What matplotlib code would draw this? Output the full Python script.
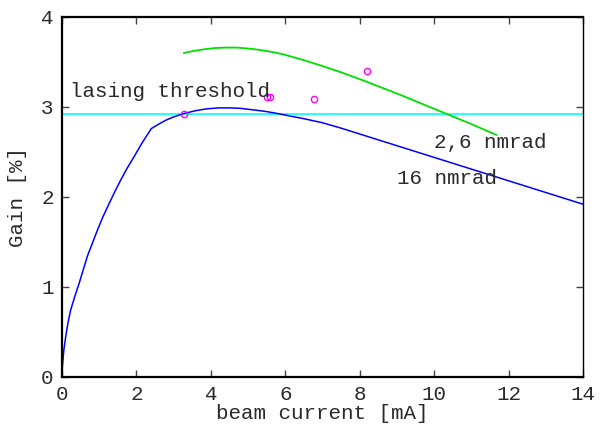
import matplotlib
matplotlib.use('Agg')
import matplotlib.pyplot as plt

plt.rcParams['font.family'] = ['Liberation Mono', 'DejaVu Sans Mono']

# 16 nmrad gain curve (blue)
x_16 = [0, 0.005, 0.02, 0.05, 0.1, 0.16, 0.23, 0.34, 0.46, 0.57, 0.68, 0.82,
        0.95, 1.1, 1.27, 1.42, 1.58, 1.75, 1.94, 2.15, 2.40,
        2.6, 2.8, 3.0, 3.3, 3.6, 3.9, 4.2, 4.5, 4.8, 5.1, 5.4, 5.7, 6.0,
        6.5, 7.0, 7.5, 8, 9, 10, 11, 12, 13, 14]
y_16 = [0, 0.08, 0.16, 0.30, 0.45, 0.60, 0.74, 0.89, 1.04, 1.19, 1.34, 1.49,
        1.63, 1.78, 1.93, 2.06, 2.19, 2.32, 2.45, 2.60, 2.76,
        2.81, 2.855, 2.89, 2.93, 2.96, 2.98, 2.99, 2.99, 2.985, 2.97, 2.955, 2.935, 2.91,
        2.87, 2.825, 2.765, 2.70, 2.57, 2.44, 2.31, 2.18, 2.05, 1.92]

# 2,6 nmrad gain curve (green)
x_26 = [3.28, 3.5, 3.8, 4.1, 4.4, 4.7, 5.0, 5.3, 5.6, 5.9, 6.2, 6.5, 7.0,
        7.5, 8.0, 9, 10, 11, 11.67]
y_26 = [3.60, 3.62, 3.64, 3.655, 3.66, 3.66, 3.65, 3.635, 3.615, 3.59, 3.555, 3.52, 3.455,
        3.385, 3.31, 3.15, 2.98, 2.81, 2.69]

# measured points
x_meas = [3.28, 5.50, 5.59, 6.78, 8.19]
y_meas = [2.92, 3.11, 3.11, 3.09, 3.40]

threshold = 2.92

fig = plt.figure(figsize=(6, 4.26), dpi=100)
ax = fig.add_axes([62 / 600, 1 - 377 / 426, 521 / 600, 360 / 426])

ax.axhline(threshold, color='#00ffff', lw=1.2)
ax.plot(x_16, y_16, color='#0000ff', lw=1.1)
ax.plot(x_26, y_26, color='#00e000', lw=1.3)
ax.plot(x_meas, y_meas, 'o', ms=4.5, mfc='none', mec='#ff00ff', mew=1.0)

txt = '#2a2a2a'
fs = 15
ax.text(0.22, 3.17, 'lasing threshold', fontsize=fs, color=txt, va='center')
ax.text(10.0, 2.61, '2,6 nmrad', fontsize=fs, color=txt, va='center')
ax.text(9.0, 2.21, '16 nmrad', fontsize=fs, color=txt, va='center')

ax.set_xlim(0, 14)
ax.set_ylim(0, 4)
ax.set_xticks(range(0, 15, 2))
ax.set_yticks(range(0, 5))
ax.tick_params(direction='in', top=True, right=True, length=5, width=1,
               labelsize=fs, labelcolor=txt, color='#444444', pad=6)
for side in ['left', 'bottom', 'top']:
    ax.spines[side].set_linewidth(1.6)
ax.spines['right'].set_linewidth(1.0)

ax.set_xlabel('beam current [mA]', fontsize=fs, color=txt, labelpad=0)
ax.set_ylabel('Gain [%]', fontsize=fs, color=txt, labelpad=10)

fig.savefig('out.png', dpi=100)
